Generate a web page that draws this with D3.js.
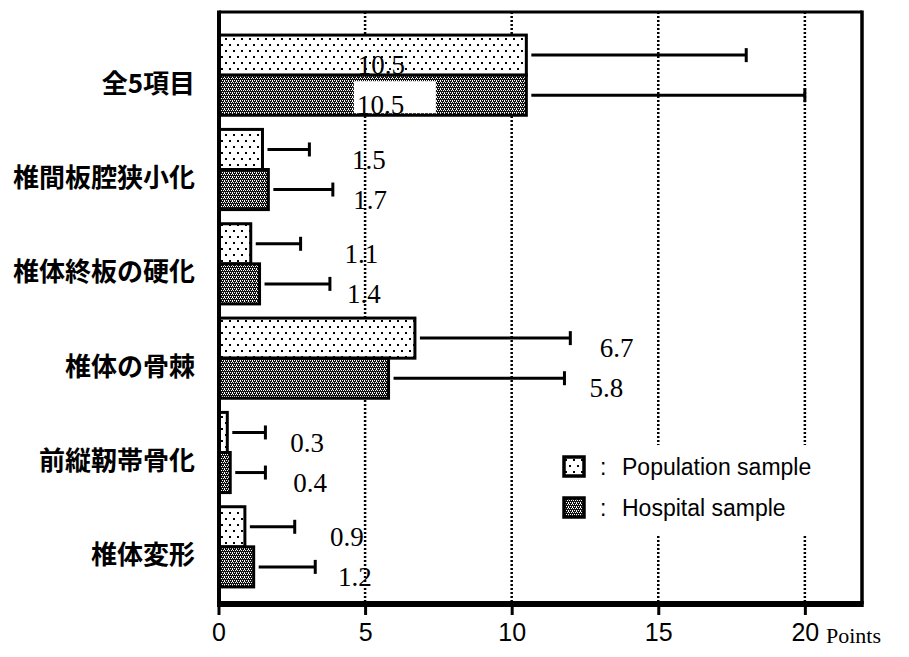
<!DOCTYPE html>
<html><head><meta charset="utf-8">
<script src="https://cdn.jsdelivr.net/npm/d3@7"></script>
<style>body{margin:0;background:#fff} svg{display:block}</style>
</head><body><svg id="chart" width="909" height="657"></svg>
<script>
// Data: mean score and SD per finding, for the two samples
const categories = ["全5項目", "椎間板腔狭小化", "椎体終板の硬化", "椎体の骨棘", "前縦靭帯骨化", "椎体変形"];
const seriesNames = ["Population sample", "Hospital sample"];
const populationMean = [10.5, 1.5, 1.1, 6.7, 0.3, 0.9];
const populationSD   = [7.5, 1.6, 1.7, 5.3, 1.3, 1.7];
const hospitalMean   = [10.5, 1.7, 1.4, 5.8, 0.4, 1.2];
const hospitalSD     = [9.5, 2.2, 2.4, 6.0, 1.2, 2.1];
const xTicks = [0, 5, 10, 15, 20];
const xUnit = "Points";

// Where each value label starts, in axis units (population row, hospital row)
const labelX = [
  [4.75, 4.55, 4.3, 13.0, 2.45, 3.8],
  [4.72, 4.6, 4.38, 12.65, 2.55, 4.08]
];

const svg = d3.select("#chart");
const frame = {left: 219, right: 862, top: 12, bottom: 604};

const x = d3.scaleLinear().domain([0, 22]).range([218.5, 863.5]);
const y = d3.scaleBand().domain(categories).range([28, 594]).paddingInner(0.15).paddingOuter(0.075);
const sub = d3.scaleBand().domain(seriesNames).range([0, y.bandwidth()]);

const series = [
  {name: seriesNames[0], mean: populationMean, sd: populationSD, fill: "url(#dots)"},
  {name: seriesNames[1], mean: hospitalMean, sd: hospitalSD, fill: "url(#mesh)"}
];

// Fill patterns
const defs = svg.append("defs");
const dots = defs.append("pattern").attr("id", "dots").attr("patternUnits", "userSpaceOnUse")
  .attr("width", 8).attr("height", 12);
dots.append("rect").attr("width", 8).attr("height", 12).attr("fill", "#fff");
dots.append("rect").attr("x", 1).attr("y", 2).attr("width", 2).attr("height", 2).attr("fill", "#000");
dots.append("rect").attr("x", 5).attr("y", 8).attr("width", 2).attr("height", 2).attr("fill", "#000");

const mesh = defs.append("pattern").attr("id", "mesh").attr("patternUnits", "userSpaceOnUse")
  .attr("width", 4).attr("height", 4);
mesh.append("rect").attr("width", 4).attr("height", 4).attr("fill", "#111");
[[0, 0], [2, 0], [1, 2], [3, 2], [0, 1]].forEach(([px, py]) =>
  mesh.append("rect").attr("x", px).attr("y", py).attr("width", 1).attr("height", 1).attr("fill", "#fff"));

// Dotted vertical grid
svg.append("g").selectAll("line").data(xTicks.filter(d => d > 0)).join("line")
  .attr("x1", d => x(d)).attr("x2", d => x(d))
  .attr("y1", frame.top).attr("y2", frame.bottom)
  .attr("stroke", "#000").attr("stroke-width", 2.5).attr("stroke-dasharray", "2,2");

// Legend backdrop hides the grid behind the key
svg.append("rect").attr("x", 552).attr("y", 445).attr("width", 292).attr("height", 90).attr("fill", "#fff");

// Bars, error bars and value labels
const groups = svg.append("g").selectAll("g").data(series).join("g");

groups.each(function(s, si) {
  const g = d3.select(this);
  const rows = categories.map((c, i) => ({c, i, m: s.mean[i], sd: s.sd[i]}));
  const top = d => y(d.c) + sub(s.name);
  const cy = d => top(d) + sub.bandwidth() / 2;

  // error bars
  g.selectAll("line.err").data(rows).join("line").attr("class", "err")
    .attr("x1", d => x(d.m) + 5).attr("x2", d => x(d.m + d.sd))
    .attr("y1", cy).attr("y2", cy)
    .attr("stroke", "#000").attr("stroke-width", 3);
  g.selectAll("line.cap").data(rows).join("line").attr("class", "cap")
    .attr("x1", d => x(d.m + d.sd)).attr("x2", d => x(d.m + d.sd))
    .attr("y1", d => cy(d) - 7).attr("y2", d => cy(d) + 7)
    .attr("stroke", "#000").attr("stroke-width", 3);

  // bar fill
  g.selectAll("rect.fill").data(rows).join("rect").attr("class", "fill")
    .attr("x", x(0)).attr("y", top)
    .attr("width", d => x(d.m) - x(0)).attr("height", sub.bandwidth())
    .attr("fill", s.fill);

  // white box under the label that sits inside a long dark bar
  g.selectAll("rect.box").data(rows.filter(d => si === 1 && x(labelX[si][d.i]) < x(d.m))).join("rect")
    .attr("class", "box")
    .attr("x", d => x(labelX[si][d.i]) - 3).attr("y", d => top(d) + 6)
    .attr("width", 82).attr("height", sub.bandwidth() - 8).attr("fill", "#fff");

  g.selectAll("text.val").data(rows).join("text").attr("class", "val")
    .attr("x", d => x(labelX[si][d.i]))
    .attr("y", d => top(d) + sub.bandwidth() - 1)
    .attr("font-family", "'Liberation Serif','Times New Roman',serif")
    .attr("font-size", 27).attr("fill", "#000")
    .text(d => d3.format(".1f")(d.m));

  // bar outline drawn last
  g.selectAll("rect.edge").data(rows).join("rect").attr("class", "edge")
    .attr("x", x(0)).attr("y", top)
    .attr("width", d => x(d.m) - x(0)).attr("height", sub.bandwidth())
    .attr("fill", "none").attr("stroke", "#000").attr("stroke-width", 3);
});

// Frame
svg.append("line").attr("x1", frame.left).attr("x2", frame.right).attr("y1", frame.top).attr("y2", frame.top)
  .attr("stroke", "#000").attr("stroke-width", 3);
svg.append("line").attr("x1", frame.right).attr("x2", frame.right).attr("y1", frame.top - 1.5).attr("y2", frame.bottom)
  .attr("stroke", "#000").attr("stroke-width", 3.5);
svg.append("line").attr("x1", frame.left).attr("x2", frame.left).attr("y1", frame.top - 1.5).attr("y2", frame.bottom)
  .attr("stroke", "#000").attr("stroke-width", 4);

// X axis
const xAxis = d3.axisBottom(x).tickValues(xTicks).tickSize(11).tickPadding(8).tickFormat(d3.format("d"));
const ax = svg.append("g").attr("transform", `translate(0,${frame.bottom})`).call(xAxis);
ax.select(".domain").remove();
ax.selectAll(".tick line").attr("stroke", "#000").attr("stroke-width", 3);
ax.selectAll(".tick text").attr("font-family", "'Liberation Sans',Arial,sans-serif")
  .attr("font-size", 25).attr("fill", "#000");
svg.append("line").attr("x1", frame.left - 2).attr("x2", frame.right + 1.75)
  .attr("y1", frame.bottom).attr("y2", frame.bottom)
  .attr("stroke", "#000").attr("stroke-width", 6);
svg.append("text").attr("x", 826).attr("y", 643)
  .attr("font-family", "'Liberation Serif','Times New Roman',serif").attr("font-size", 22)
  .text(xUnit);

// Category labels
svg.append("g").selectAll("text").data(categories).join("text")
  .attr("x", 195).attr("y", d => y(d) + y.bandwidth() / 2 + 6)
  .attr("text-anchor", "end").attr("dominant-baseline", "central")
  .attr("font-family", "'Noto Sans CJK JP',sans-serif").attr("font-weight", "bold")
  .attr("font-size", 26).attr("fill", "#000")
  .text(d => d);

// Legend
const legend = svg.append("g").selectAll("g").data(series).join("g")
  .attr("transform", (d, i) => `translate(564,${457 + i * 41})`);
legend.append("rect").attr("width", 20).attr("height", 19)
  .attr("fill", d => d.fill).attr("stroke", "#000").attr("stroke-width", 3.5);
legend.append("text").attr("x", 36).attr("y", 18)
  .attr("font-family", "'Liberation Sans',Arial,sans-serif").attr("font-size", 23).text(":");
legend.append("text").attr("x", 58).attr("y", 18)
  .attr("font-family", "'Liberation Sans',Arial,sans-serif").attr("font-size", 23).text(d => d.name);
</script>
</body></html>
